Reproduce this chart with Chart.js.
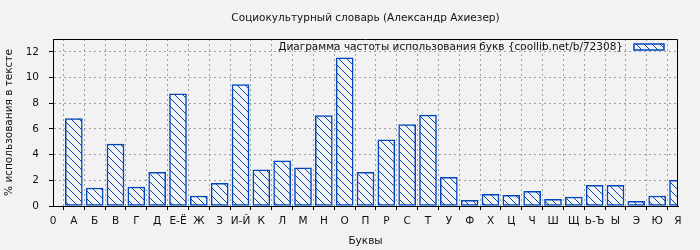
<!DOCTYPE html>
<html>
<head>
<meta charset="utf-8">
<script src="https://cdn.jsdelivr.net/npm/chart.js@4"></script>
<style>
  html, body { margin: 0; padding: 0; background: #f2f2f2; }
  #wrap { width: 700px; height: 250px; }
</style>
</head>
<body>
<div id="wrap"><canvas id="c" width="700" height="250"></canvas></div>
<script>
const chartTitle = 'Социокультурный словарь (Александр Ахиезер)';
const seriesLabel = 'Диаграмма частоты использования букв {coollib.net/b/72308}';
const xTitle = 'Буквы';
const yTitle = '% использования в тексте';
const categories = ['0','А','Б','В','Г','Д','Е-Ё','Ж','З','И-Й','К','Л','М','Н','О','П','Р','С','Т','У','Ф','Х','Ц','Ч','Ш','Щ','Ь-Ъ','Ы','Э','Ю','Я'];
const values = [null, 6.8, 1.4, 4.82, 1.48, 2.63, 8.73, 0.78, 1.77, 9.45, 2.81, 3.52, 2.97, 7.03, 11.54, 2.63, 5.16, 6.33, 7.08, 2.24, 0.44, 0.91, 0.83, 1.15, 0.52, 0.70, 1.61, 1.61, 0.37, 0.78, 2.0];
const yMin = 0, yMax = 13, yStep = 2;

const BLUE = '#0047bf';
const BG = '#f2f2f2';
const FONT = 'DejaVu Sans';
const FS = 10.5;

function makePattern() {
  const s = 8;
  const c = document.createElement('canvas');
  c.width = s; c.height = s;
  const g = c.getContext('2d');
  g.fillStyle = BG;
  g.fillRect(0, 0, s, s);
  g.fillStyle = BLUE;
  for (let i = 0; i < s; i++) g.fillRect(i, i, 1, 1);
  return document.getElementById('c').getContext('2d').createPattern(c, 'repeat');
}
const hatch = makePattern();

const framePlugin = {
  id: 'frameLegend',
  afterDraw(chart) {
    const ctx = chart.ctx;
    const a = chart.chartArea;
    ctx.save();
    ctx.strokeStyle = '#000';
    ctx.lineWidth = 1;
    ctx.beginPath();
    ctx.moveTo(Math.round(a.left) + 0.5, Math.round(a.top) + 0.5);
    ctx.lineTo(Math.round(a.right) - 0.5, Math.round(a.top) + 0.5);
    ctx.lineTo(Math.round(a.right) - 0.5, Math.round(a.bottom));
    ctx.stroke();
    // legend inside plot, top-right
    const sw = 30, sh = 6;
    const sx = a.right - 44, sy = a.top + 5;
    ctx.fillStyle = hatch;
    ctx.fillRect(sx, sy, sw, sh);
    ctx.strokeStyle = BLUE;
    ctx.lineWidth = 1.5;
    ctx.strokeRect(sx, sy, sw, sh);
    ctx.fillStyle = '#111';
    ctx.font = FS + 'px "' + FONT + '"';
    ctx.textAlign = 'right';
    ctx.textBaseline = 'middle';
    ctx.fillText(chart.data.datasets[0].label, sx - 11, sy + 3);
    ctx.restore();
  }
};

new Chart(document.getElementById('c'), {
  type: 'bar',
  data: {
    labels: categories,
    datasets: [{
      label: seriesLabel,
      data: values,
      backgroundColor: hatch,
      borderColor: BLUE,
      borderWidth: 1.5,
      borderSkipped: false,
      barThickness: 17,
      clip: 0
    }]
  },
  options: {
    responsive: false,
    animation: false,
    devicePixelRatio: 1,
    layout: { padding: { left: 0, right: 22, top: 0, bottom: 0 } },
    plugins: {
      legend: { display: false },
      tooltip: { enabled: false },
      title: {
        display: true,
        fullSize: false,
        text: chartTitle,
        color: '#111',
        font: { family: FONT, size: FS, weight: 'normal', lineHeight: 1.2 },
        padding: { top: 12.3, bottom: 14.1 }
      }
    },
    scales: {
      x: {
        offset: false,
        afterFit(s) { s.height = 44; },
        grid: {
          color: '#a0a0a0',
          lineWidth: 1,
          drawTicks: true,
          tickLength: 4,
          tickColor: '#000'
        },
        border: { display: true, color: '#000', width: 1, dash: [2, 3] },
        ticks: {
          autoSkip: false,
          maxRotation: 0,
          minRotation: 0,
          padding: 5,
          color: '#111',
          font: { family: FONT, size: FS }
        },
        title: {
          display: true,
          text: xTitle,
          color: '#111',
          font: { family: FONT, size: FS, lineHeight: 1.2 },
          padding: { top: 0, bottom: 2.7 }
        }
      },
      y: {
        min: yMin,
        max: yMax,
        afterFit(s) { s.width = 53; },
        grid: {
          color: '#a0a0a0',
          lineWidth: 1,
          drawTicks: true,
          tickLength: 4,
          tickColor: '#000'
        },
        border: { display: true, color: '#000', width: 1, dash: [2, 3] },
        ticks: {
          stepSize: yStep,
          includeBounds: false,
          padding: 10,
          color: '#111',
          font: { family: FONT, size: FS }
        },
        title: {
          display: true,
          text: yTitle,
          color: '#111',
          font: { family: FONT, size: FS, lineHeight: 1.2 },
          padding: { top: 2.7, bottom: 0 }
        }
      }
    }
  },
  plugins: [framePlugin]
});
</script>
</body>
</html>
